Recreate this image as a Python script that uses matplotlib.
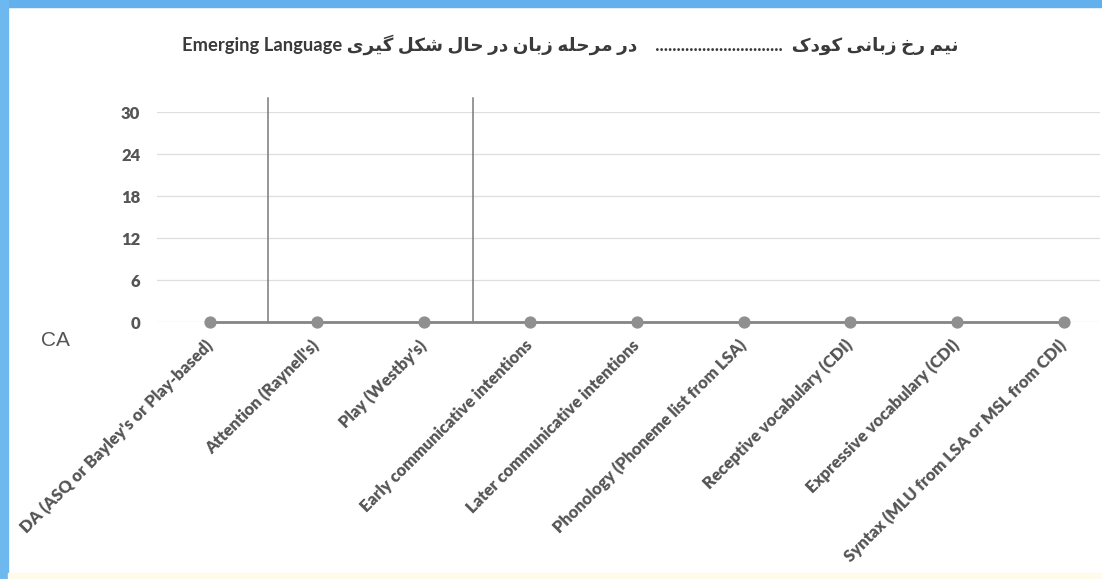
import matplotlib
matplotlib.use("Agg")
import matplotlib.pyplot as plt
from matplotlib.patches import Rectangle

# داده ها
categories = [
    "DA (ASQ or Bayley's or Play-based)",
    "Attention (Raynell's)",
    "Play (Westby's)",
    "Early communicative intentions",
    "Later communicative intentions",
    "Phonology (Phoneme list from LSA)",
    "Receptive vocabulary (CDI)",
    "Expressive vocabulary (CDI)",
    "Syntax (MLU from LSA or MSL from CDI)",
]
ca_values = [0, 0, 0, 0, 0, 0, 0, 0, 0]
y_ticks = [0, 6, 12, 18, 24, 30]
separators = [0.54, 2.46]   # hand drawn lines between groups

title_fa_1 = "نیم رخ زبانی کودک"
title_fa_2 = "در مرحله زبان در حال شکل گیری"
title_en = "Emerging Language"

# simple persian shaping (presentation forms) because matplotlib has no bidi
FORMS = {
    'ن': ('\uFEE5', '\uFEE6', '\uFEE7', '\uFEE8'),
    'ی': ('\uFEEF', '\uFEF0', '\uFEF3', '\uFEF4'),
    'م': ('\uFEE1', '\uFEE2', '\uFEE3', '\uFEE4'),
    'ر': ('\uFEAD', '\uFEAE', '\uFEAD', '\uFEAE'),
    'خ': ('\uFEA5', '\uFEA6', '\uFEA7', '\uFEA8'),
    'ز': ('\uFEAF', '\uFEB0', '\uFEAF', '\uFEB0'),
    'ب': ('\uFE8F', '\uFE90', '\uFE91', '\uFE92'),
    'ا': ('\uFE8D', '\uFE8E', '\uFE8D', '\uFE8E'),
    'ل': ('\uFEDD', '\uFEDE', '\uFEDF', '\uFEE0'),
    'ک': ('\uFB8E', '\uFB8F', '\uFB90', '\uFB91'),
    'و': ('\uFEED', '\uFEEE', '\uFEED', '\uFEEE'),
    'د': ('\uFEA9', '\uFEAA', '\uFEA9', '\uFEAA'),
    'گ': ('\uFB92', '\uFB93', '\uFB94', '\uFB95'),
    'ه': ('\uFEE9', '\uFEEA', '\uFEEB', '\uFEEC'),
    'ح': ('\uFEA1', '\uFEA2', '\uFEA3', '\uFEA4'),
    'ش': ('\uFEB5', '\uFEB6', '\uFEB7', '\uFEB8'),
}
RIGHT_ONLY = set('اردزو')


def shape_word(w):
    out = []
    for i, ch in enumerate(w):
        f = FORMS.get(ch)
        if f is None:
            out.append(ch)
            continue
        prev_j = i > 0 and w[i - 1] in FORMS and w[i - 1] not in RIGHT_ONLY
        next_j = i < len(w) - 1 and ch not in RIGHT_ONLY
        if prev_j and next_j:
            out.append(f[3])
        elif prev_j:
            out.append(f[1])
        elif next_j:
            out.append(f[2])
        else:
            out.append(f[0])
    return ''.join(reversed(out))


def rtl(text):
    return ' '.join(shape_word(w) for w in reversed(text.split()))


W, H = 1102, 579
fig = plt.figure(figsize=(W / 100, H / 100), dpi=100)
fig.patch.set_facecolor("white")

# scan border
fig.patches.append(Rectangle((0, 1 - 7 / H), 1, 7 / H, transform=fig.transFigure,
                             color="#63b1ec", zorder=0))
fig.patches.append(Rectangle((0, 0), 8 / W, 1, transform=fig.transFigure,
                             color="#6cb8ef", zorder=0))
fig.patches.append(Rectangle((8 / W, 0), 1, 6 / H, transform=fig.transFigure,
                             color="#fffbea", zorder=0))

ax = fig.add_axes([157 / W, 1 - 322 / H, (1100 - 157) / W, 210 / H])
ax.set_facecolor("none")

x = list(range(len(categories)))
ax.plot(x, ca_values, color="#858585", lw=2.0, marker="o", ms=7.8,
        mfc="#8f8f8f", mec="#8f8f8f", clip_on=False, zorder=4)

for s in separators:
    ax.plot([s, s], [0, 32], color="#7a7a7a", lw=1.1, clip_on=False, zorder=3)

ax.set_xlim(-0.5, 8.34)
ax.set_ylim(0, 30)
ax.set_yticks(y_ticks)
ax.set_yticklabels([str(v) for v in y_ticks], fontfamily="Lato", fontweight="heavy",
                   fontsize=12, color="#555555")
ax.grid(axis="y", color="#dedede", lw=0.9)
ax.set_axisbelow(True)
for sp in ax.spines.values():
    sp.set_visible(False)
ax.tick_params(axis="y", length=0, pad=12)
ax.tick_params(axis="x", length=0, pad=15)
ax.set_xticks(x)
ax.set_xticklabels(categories, rotation=45, ha="right", va="center",
                   rotation_mode="anchor", fontfamily="Lato", fontweight="heavy",
                   fontsize=12, color="#555555")

fig.text(55 / W, 1 - 340 / H, "CA", ha="center", va="center", fontsize=15,
         color="#555555", fontfamily="Liberation Sans")

title = title_en + " " + rtl(title_fa_2) + "    " + "." * 30 + "  " + rtl(title_fa_1)
fig.text(570 / W, 1 - 45 / H, title, ha="center", va="center", fontsize=13.2,
         fontweight="bold", color="#3a3a3a", family=["Lato", "DejaVu Sans"])

fig.savefig("out.png", dpi=100)
